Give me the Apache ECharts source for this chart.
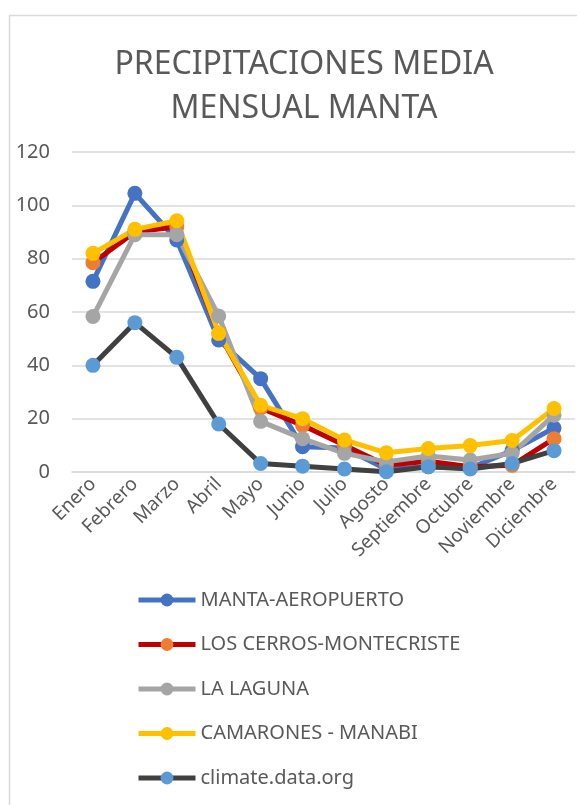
<!DOCTYPE html>
<html>
<head>
<meta charset="utf-8">
<script src="https://cdn.jsdelivr.net/npm/echarts@6/dist/echarts.min.js"></script>
<style>
  html, body { margin: 0; padding: 0; background: #fff; }
  #chart { width: 577px; height: 805px; }
</style>
</head>
<body>
<div id="chart"></div>
<script>
// meses
var months = ['Enero', 'Febrero', 'Marzo', 'Abril', 'Mayo', 'Junio', 'Julio', 'Agosto',
  'Septiembre', 'Octubre', 'Noviembre', 'Diciembre'];

// precipitacion media mensual (mm)
var mantaAeropuerto = [71.5, 104.5, 87, 49.5, 35, 9.5, 9, 1, 2, 1.5, 8, 16.5];
var losCerros = [78.5, 90, 92, 52, 24, 17.5, 10, 2.5, 4, 2, 2.5, 12.5];
var laLaguna = [58.3, 89, 89, 58.5, 19, 12.5, 7, 3.8, 6, 4.5, 7, 21.3];
var camarones = [82, 91, 94.2, 52, 25, 20, 12, 7.2, 8.8, 9.9, 11.8, 23.8];
var climateData = [40, 56, 43, 18, 3.2, 2.2, 1.1, 0.1, 2, 1.1, 3.2, 8];

var yTicks = [0, 20, 40, 60, 80, 100, 120];

var textColor = '#595959';
var font = 'Noto Sans';

function mkSeries(name, data, lineColor, dotColor) {
  return {
    name: name,
    type: 'line',
    data: data,
    symbol: 'circle',
    symbolSize: 15,
    lineStyle: { color: lineColor, width: 5 },
    itemStyle: { color: dotColor },
    emphasis: { disabled: true }
  };
}

var chart = echarts.init(document.getElementById('chart'), null, { renderer: 'canvas' });
chart.setOption({
  animation: false,
  backgroundColor: '#fff',
  title: {
    text: 'PRECIPITACIONES MEDIA\nMENSUAL MANTA',
    left: 299,
    textAlign: 'center',
    top: 38,
    textStyle: {
      color: textColor,
      fontFamily: font,
      fontWeight: 'normal',
      fontSize: 32,
      lineHeight: 44
    }
  },
  graphic: [{
    type: 'rect',
    shape: { x: 9.5, y: 15.5, width: 600, height: 820 },
    style: { fill: 'none', stroke: '#d9d9d9', lineWidth: 1.5 },
    silent: true
  }],
  legend: {
    orient: 'vertical',
    left: 131,
    top: 585,
    itemWidth: 57,
    itemHeight: 16,
    itemGap: 24.5,
    selectedMode: false,
    lineStyle: { width: 5 },
    textStyle: { color: textColor, fontFamily: font, fontSize: 20, lineHeight: 20 }
  },
  grid: { left: 72, top: 152, width: 503, height: 320, containLabel: false },
  xAxis: {
    type: 'category',
    data: months,
    boundaryGap: true,
    axisLine: { show: true, lineStyle: { color: '#d9d9d9', width: 1.5 } },
    axisTick: { show: false },
    axisLabel: {
      rotate: 45,
      interval: 0,
      margin: 9,
      color: textColor,
      fontFamily: font,
      fontSize: 19
    }
  },
  yAxis: {
    type: 'value',
    min: yTicks[0],
    max: yTicks[yTicks.length - 1],
    interval: 20,
    axisLine: { show: false },
    axisTick: { show: false },
    splitLine: { lineStyle: { color: '#d9d9d9', width: 1.5 } },
    axisLabel: {
      margin: 22,
      color: textColor,
      fontFamily: font,
      fontSize: 20
    }
  },
  series: [
    mkSeries('MANTA-AEROPUERTO', mantaAeropuerto, '#4472c4', '#4472c4'),
    mkSeries('LOS CERROS-MONTECRISTE', losCerros, '#c00000', '#ed7d31'),
    mkSeries('LA LAGUNA', laLaguna, '#a5a5a5', '#a5a5a5'),
    mkSeries('CAMARONES - MANABI', camarones, '#ffc000', '#ffc000'),
    mkSeries('climate.data.org', climateData, '#404040', '#5b9bd5')
  ]
});
</script>
</body>
</html>
